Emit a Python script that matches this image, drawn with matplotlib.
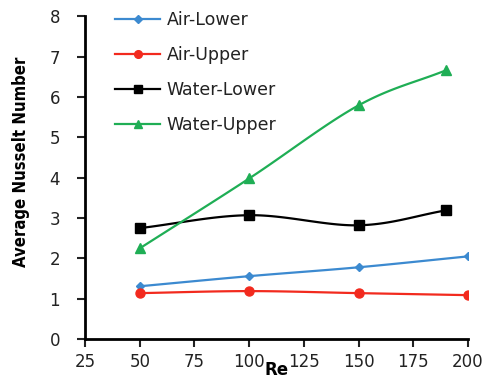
import numpy as np
import matplotlib
matplotlib.use("Agg")
import matplotlib.pyplot as plt
from matplotlib.lines import Line2D

re_air = [50, 100, 150, 200]
re_water = [50, 100, 150, 190]
air_lower = [1.31, 1.56, 1.78, 2.05]
air_upper = [1.14, 1.19, 1.14, 1.09]
water_lower = [2.75, 3.07, 2.82, 3.19]
water_upper = [2.25, 3.98, 5.79, 6.66]

series_names = ["Air-Lower", "Air-Upper", "Water-Lower", "Water-Upper"]
colors = ["#3c8ad0", "#f22a1e", "#000000", "#1fae55"]
markers = ["D", "o", "s", "^"]
msizes = [4.5, 6.5, 7, 7.5]

x_ticks = [25, 50, 75, 100, 125, 150, 175, 200]
y_ticks = [0, 1, 2, 3, 4, 5, 6, 7, 8]


def smooth_curve(x, y, n=30):
    """Bezier smoothing through consecutive points (Catmull-Rom tangents)."""
    x = np.asarray(x, float)
    y = np.asarray(y, float)
    px = np.concatenate([[2 * x[0] - x[1]], x, [2 * x[-1] - x[-2]]])
    py = np.concatenate([[2 * y[0] - y[1]], y, [2 * y[-1] - y[-2]]])
    xs, ys = [], []
    for i in range(1, len(px) - 2):
        t = np.linspace(0, 1, n)
        p0x, p1x, p2x, p3x = px[i - 1:i + 3]
        p0y, p1y, p2y, p3y = py[i - 1:i + 3]
        c1x = p1x + (p2x - p0x) / 6
        c1y = p1y + (p2y - p0y) / 6
        c2x = p2x - (p3x - p1x) / 6
        c2y = p2y - (p3y - p1y) / 6
        bx = (1 - t) ** 3 * p1x + 3 * (1 - t) ** 2 * t * c1x + 3 * (1 - t) * t ** 2 * c2x + t ** 3 * p2x
        by = (1 - t) ** 3 * p1y + 3 * (1 - t) ** 2 * t * c1y + 3 * (1 - t) * t ** 2 * c2y + t ** 3 * p2y
        xs.extend(bx)
        ys.extend(by)
    return np.array(xs), np.array(ys)


fig = plt.figure(figsize=(4.92, 3.76), dpi=100)
ax = fig.add_axes([0.173, 0.098, 0.778, 0.859])

data = [(re_air, air_lower), (re_air, air_upper), (re_water, water_lower), (re_water, water_upper)]
handles = []
for (xv, yv), name, c, m, ms in zip(data, series_names, colors, markers, msizes):
    sx, sy = smooth_curve(xv, yv)
    ax.plot(sx, sy, color=c, lw=1.6, zorder=2)
    ax.plot(xv, yv, ls="none", marker=m, color=c, ms=ms, zorder=3)
    handles.append(Line2D([0], [0], color=c, lw=1.6, marker=m, ms=ms * 0.85))

ax.set_xlim(25, 200)
ax.set_ylim(0, 8)
ax.set_xticks(x_ticks)
ax.set_yticks(y_ticks)
for s in ["top", "right"]:
    ax.spines[s].set_visible(False)
ax.spines["left"].set_linewidth(2)
ax.spines["bottom"].set_linewidth(2)
ax.tick_params(axis="both", direction="out", length=6, width=1.5, labelsize=12,
               colors="#222222")
ax.tick_params(axis="y", pad=12)
ax.tick_params(axis="x", pad=4)

ax.set_ylabel("Average Nusselt Number", family="DejaVu Sans", fontstretch="condensed",
              fontweight="bold", fontsize=12)
ax.yaxis.set_label_coords(-0.145, 0.55)
ax.set_xlabel("Re", fontweight="bold", fontsize=12, labelpad=-7)

leg = ax.legend(handles, series_names, loc="upper left", bbox_to_anchor=(0.038, 1.065),
                frameon=False, fontsize=12.5, handlelength=2.6, labelspacing=0.98,
                handletextpad=0.35)
for t in leg.get_texts():
    t.set_color("#222222")

fig.savefig("out.png", dpi=100)
